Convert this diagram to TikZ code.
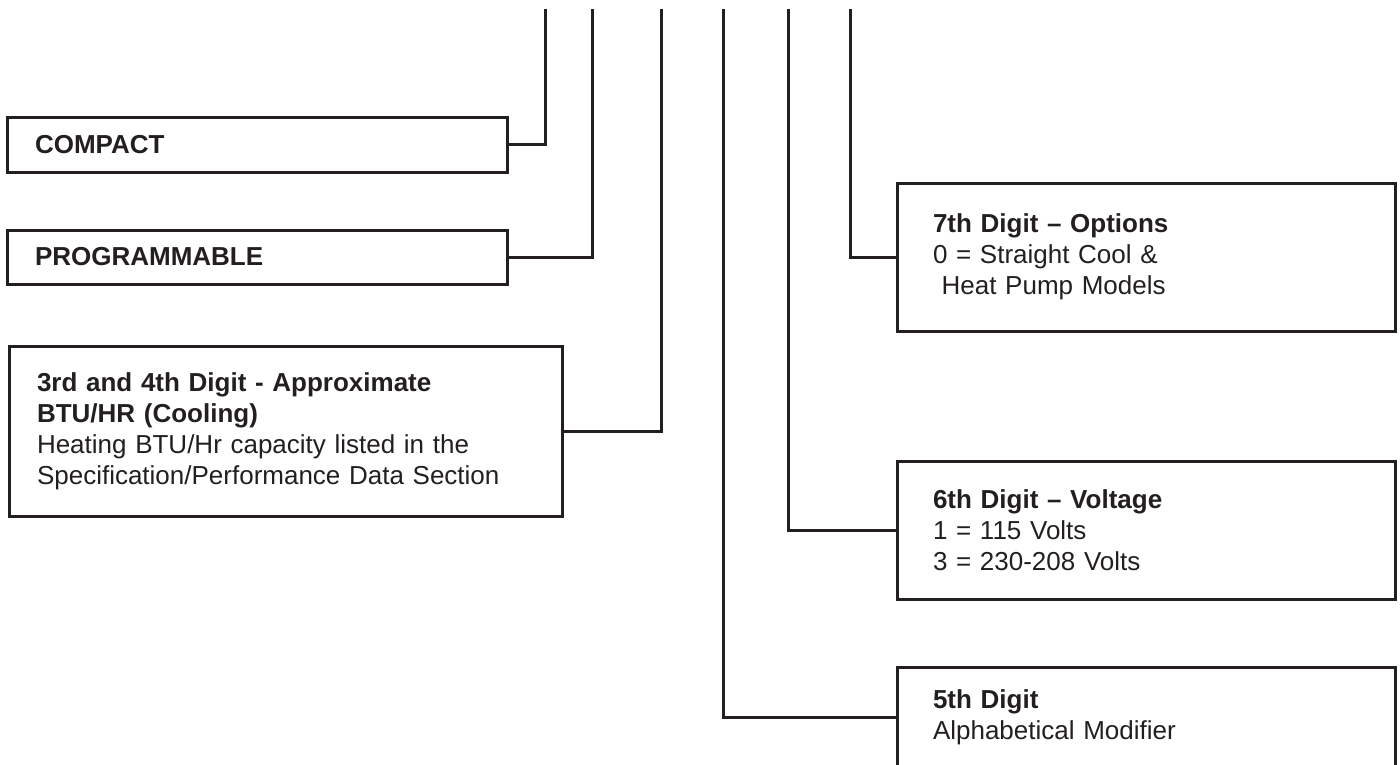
\documentclass[tikz,border=0pt]{standalone}
\usepackage{fontspec}
\setmainfont{Liberation Sans}
\usetikzlibrary{positioning}
\definecolor{inkColor}{RGB}{35,31,32}
\tikzset{codeBox/.style={shape=rectangle, draw=inkColor, text=inkColor, line width=3pt, anchor=north west, outer sep=0pt, align=left, inner xsep=28pt, font=\fontsize{26}{31}\selectfont}}
\tikzset{digitBox/.style={codeBox, inner xsep=36pt, minimum width=498pt, text width=426pt}}
\tikzset{wire/.style={draw=inkColor, line width=3pt}}

\begin{document}
\begin{tikzpicture}[x=1pt, y=-1pt]

\useasboundingbox (0,0) rectangle (1400,765);

% lines coming down from the model number
\coordinate (d1) at (545,9);
\coordinate (d2) at (592,9);
\coordinate (d3) at (661,9);
\coordinate (d4) at (723,9);
\coordinate (d5) at (788,9);
\coordinate (d6) at (850,9);

% left boxes
\node[codeBox, minimum width=500pt, minimum height=54pt, text width=444pt] (compact) at (7,118) {\textbf{COMPACT}};
\node[codeBox, minimum width=500pt, minimum height=54pt, text width=444pt] (prog) at (7,230) {\textbf{PROGRAMMABLE}};
\node[codeBox, minimum width=553pt, minimum height=170pt, text width=497pt] (btu) at (9,346)
  {\textbf{3rd and 4th Digit - Approximate}\\ \textbf{BTU/HR (Cooling)}\\ Heating BTU/Hr capacity listed in the\\ Specification/Performance Data Section};

% right boxes
\node[digitBox, minimum height=148pt] (opt7) at (897,183)
  {\textbf{7th Digit -- Options}\\ 0 = Straight Cool \&\\ ~Heat Pump Models};
\node[digitBox, minimum height=138pt] (volt6) at (897,461)
  {\textbf{6th Digit -- Voltage}\\ 1 = 115 Volts\\ 3 = 230-208 Volts};
\node[digitBox, minimum height=100pt] (mod5) at (897,667)
  {\textbf{5th Digit}\\ Alphabetical Modifier};

% connectors
\draw[wire] (d1) |- (compact.east);
\draw[wire] (d2) |- (prog.east);
\draw[wire] (d3) |- (btu.east);
\draw[wire] (d4) |- (mod5.west);
\draw[wire] (d5) |- (volt6.west);
\draw[wire] (d6) |- (opt7.west);

\end{tikzpicture}
\end{document}
